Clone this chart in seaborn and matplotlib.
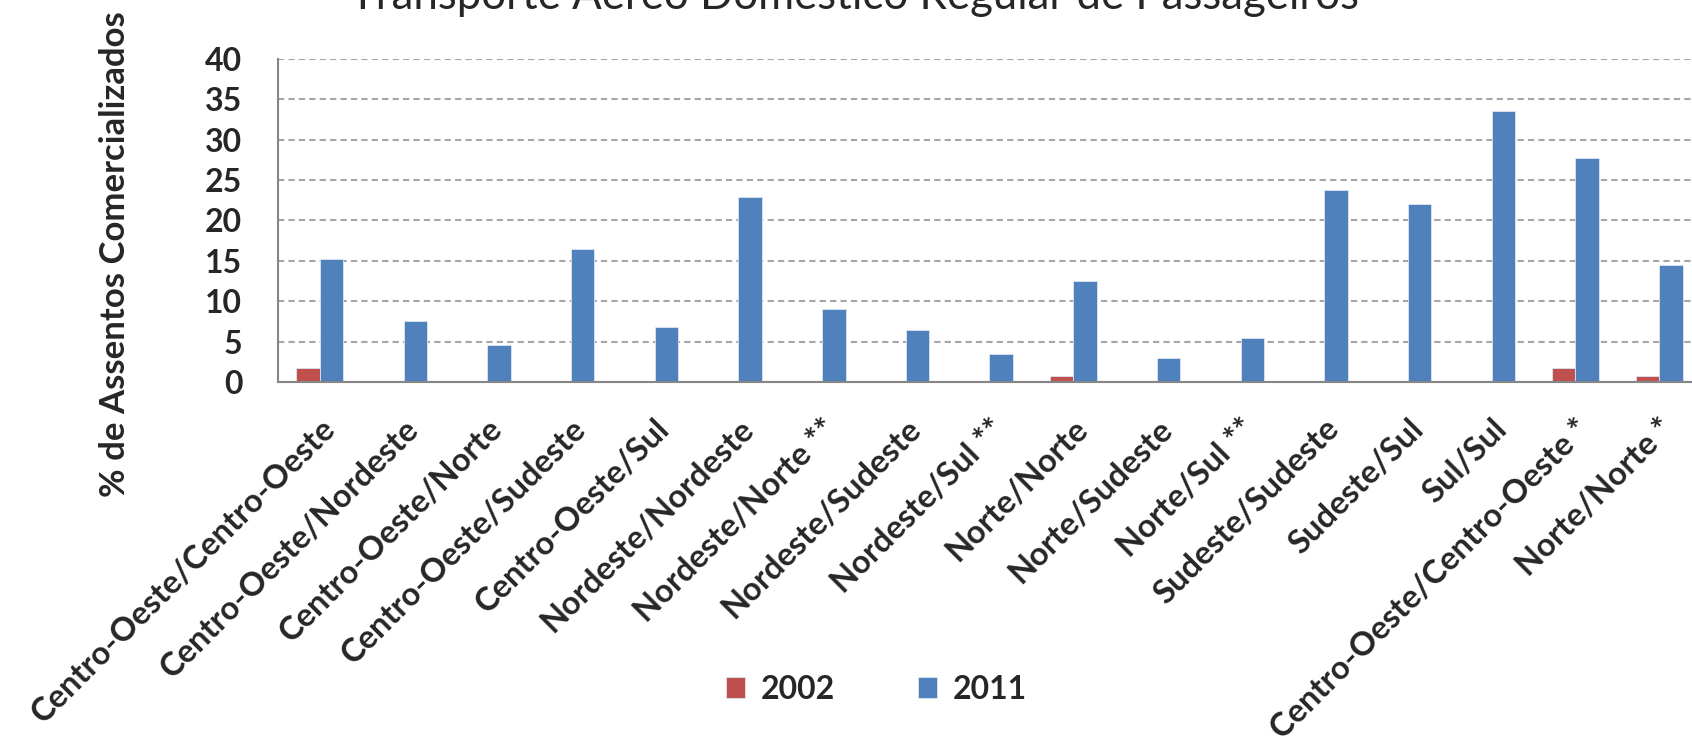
import pandas as pd
import seaborn as sns
import matplotlib.pyplot as plt
import numpy as np

# Data
categories = ["Centro-Oeste/Centro-Oeste", "Centro-Oeste/Nordeste", "Centro-Oeste/Norte",
              "Centro-Oeste/Sudeste", "Centro-Oeste/Sul", "Nordeste/Nordeste",
              "Nordeste/Norte **", "Nordeste/Sudeste", "Nordeste/Sul **", "Norte/Norte",
              "Norte/Sudeste", "Norte/Sul **", "Sudeste/Sudeste", "Sudeste/Sul", "Sul/Sul",
              "Centro-Oeste/Centro-Oeste *", "Norte/Norte *"]
values_2002 = [1.7, 0, 0, 0, 0, 0.15, 0, 0, 0, 0.8, 0, 0, 0, 0, 0, 1.7, 0.8]
values_2011 = [15.2, 7.5, 4.6, 16.45, 6.85, 22.85, 9.0, 6.4, 3.45, 12.45, 3.0, 5.5,
               23.75, 22.05, 33.6, 27.8, 14.45]
years = ["2002", "2011"]
colors = ["#C0504D", "#4F81BD"]

df = pd.DataFrame({"rota": categories * 2,
                   "ano": [years[0]] * len(categories) + [years[1]] * len(categories),
                   "valor": values_2002 + values_2011})

sns.set_style("white")
plt.rcParams['font.family'] = ['Lato', 'DejaVu Sans']

fig = plt.figure(figsize=(16.92, 7.5), dpi=100)
ax = fig.add_axes([0.1643, 0.4907, 0.8410, 0.4306])

sns.barplot(data=df, x="rota", y="valor", hue="ano", palette=colors, saturation=1,
            width=0.56, edgecolor="#DCE6F2", linewidth=0.6, ax=ax)

ax.set_ylim(0, 40)
ax.set_xlim(-0.5, len(categories) - 0.5)
ax.set_yticks(range(0, 41, 5))
ax.set_axisbelow(True)
ax.yaxis.grid(True, linestyle=(0, (3, 2)), color="#A6A6A6", linewidth=1.5)

for s in ["top", "right"]:
    ax.spines[s].set_visible(False)
for s in ["left", "bottom"]:
    ax.spines[s].set_color("#868686")
    ax.spines[s].set_linewidth(1.5)

ax.tick_params(axis="y", direction="inout", length=14.4, width=1.5, color="#868686",
               labelsize=23, pad=18.5)
ax.set_xticks(np.arange(len(categories)))
ax.set_xticklabels(categories, rotation=45, ha="right", va="top",
                   rotation_mode="anchor", fontsize=23.5, fontweight="bold")
ax.tick_params(axis="x", length=0, pad=23)
ax.set_xticks(np.arange(len(categories) + 1) - 0.5, minor=True)
ax.tick_params(axis="x", which="minor", direction="out", length=9, width=1.5,
               color="#868686")
for t in ax.get_yticklabels():
    t.set_fontweight("bold")

ax.set_xlabel("")
ax.set_ylabel("% de Assentos Comercializados", fontsize=25, fontweight="bold")
ax.yaxis.set_label_coords(-0.103, 0.396)

fig.text(0.505, 0.988, "Transporte Aéreo Doméstico Regular de Passageiros",
         ha="center", va="baseline", fontsize=31.5)

handles, labels = ax.get_legend_handles_labels()
ax.legend_.remove()
fig.legend(handles, labels, loc="center", bbox_to_anchor=(0.518, 0.081), ncol=2,
           frameon=False, prop={"size": 23, "weight": "bold"},
           handlelength=0.6, handleheight=0.6, handletextpad=0.5, columnspacing=2.6)

fig.savefig("out.png", dpi=100)
